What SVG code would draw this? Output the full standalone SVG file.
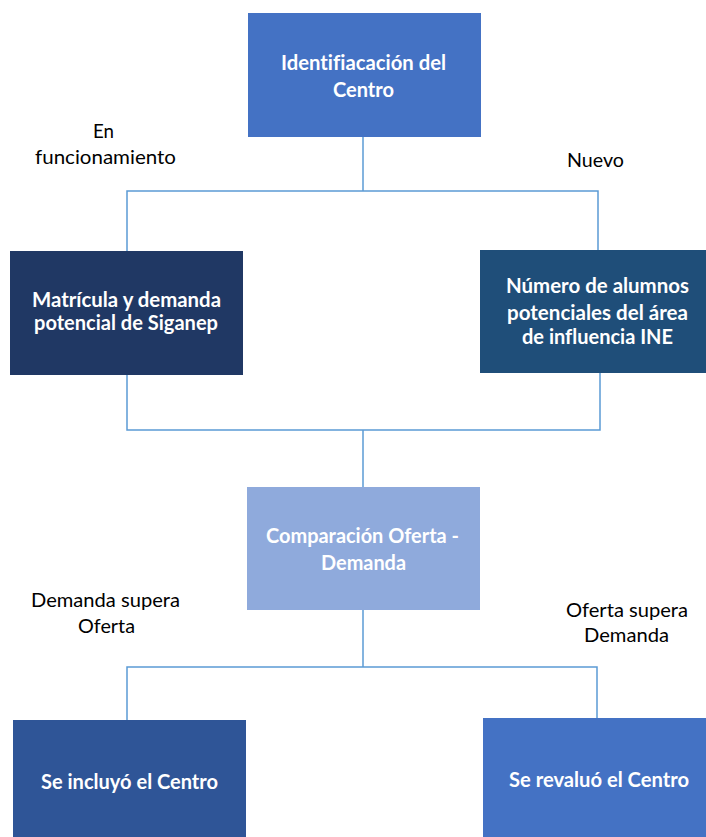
<svg xmlns="http://www.w3.org/2000/svg" width="706" height="837" viewBox="0 0 706 837">
<style>
.box-t{font-family:Lato,"Liberation Sans",sans-serif;font-weight:bold;font-size:20.5px;fill:#ffffff;font-variant-ligatures:none;}
.lbl{font-family:Lato,"Liberation Sans",sans-serif;font-size:20px;fill:#000000;font-variant-ligatures:none;}
.con{fill:none;stroke:#5B9BD5;stroke-width:1.5;}
</style>
<rect width="706" height="837" fill="#ffffff"/>
<g id="connectors">
<polyline class="con" points="363,137 363,191"/>
<polyline class="con" points="127,251 127,191 598,191 598,250"/>
<polyline class="con" points="127,375 127,430 600,430 600,373"/>
<polyline class="con" points="363,430 363,487"/>
<polyline class="con" points="363,610 363,667"/>
<polyline class="con" points="127,727 127,667 597,667 597,725"/>
</g>
<g id="n1">
<rect x="248" y="13" width="233" height="124" fill="#4472C4"/>
<text class="box-t" x="281" y="70" textLength="165" lengthAdjust="spacingAndGlyphs">Identifiacación del</text>
<text class="box-t" x="333" y="97" textLength="61" lengthAdjust="spacingAndGlyphs">Centro</text>
</g>
<g id="n2">
<rect x="10" y="251" width="233" height="124" fill="#203864"/>
<text class="box-t" x="32" y="307" textLength="189" lengthAdjust="spacingAndGlyphs">Matrícula y demanda</text>
<text class="box-t" x="34" y="330" textLength="184" lengthAdjust="spacingAndGlyphs">potencial de Siganep</text>
</g>
<g id="n3">
<rect x="480" y="250" width="226" height="123" fill="#1F4E79"/>
<text class="box-t" x="506" y="293" textLength="183" lengthAdjust="spacingAndGlyphs">Número de alumnos</text>
<text class="box-t" x="507" y="320" textLength="181" lengthAdjust="spacingAndGlyphs">potenciales del área</text>
<text class="box-t" x="522" y="344" textLength="151" lengthAdjust="spacingAndGlyphs">de influencia INE</text>
</g>
<g id="n4">
<rect x="247" y="487" width="233" height="123" fill="#8FAADC"/>
<text class="box-t" x="266" y="543" textLength="193" lengthAdjust="spacingAndGlyphs">Comparación Oferta -</text>
<text class="box-t" x="321" y="570" textLength="85" lengthAdjust="spacingAndGlyphs">Demanda</text>
</g>
<g id="n5">
<rect x="13" y="720" width="233" height="117" fill="#2F5597"/>
<text class="box-t" x="41" y="789" textLength="177" lengthAdjust="spacingAndGlyphs">Se incluyó el Centro</text>
</g>
<g id="n6">
<rect x="483" y="718" width="223" height="119" fill="#4472C4"/>
<text class="box-t" x="509" y="787" textLength="180" lengthAdjust="spacingAndGlyphs">Se revaluó el Centro</text>
</g>
<g id="labels">
<text class="lbl" x="93" y="138" textLength="21" lengthAdjust="spacingAndGlyphs">En</text>
<text class="lbl" x="35" y="164" textLength="141" lengthAdjust="spacingAndGlyphs">funcionamiento</text>
<text class="lbl" x="567" y="167" textLength="57" lengthAdjust="spacingAndGlyphs">Nuevo</text>
<text class="lbl" x="31" y="607" textLength="149" lengthAdjust="spacingAndGlyphs">Demanda supera</text>
<text class="lbl" x="78" y="633" textLength="57" lengthAdjust="spacingAndGlyphs">Oferta</text>
<text class="lbl" x="566" y="617" textLength="122" lengthAdjust="spacingAndGlyphs">Oferta supera</text>
<text class="lbl" x="584" y="642" textLength="85" lengthAdjust="spacingAndGlyphs">Demanda</text>
</g>
</svg>
